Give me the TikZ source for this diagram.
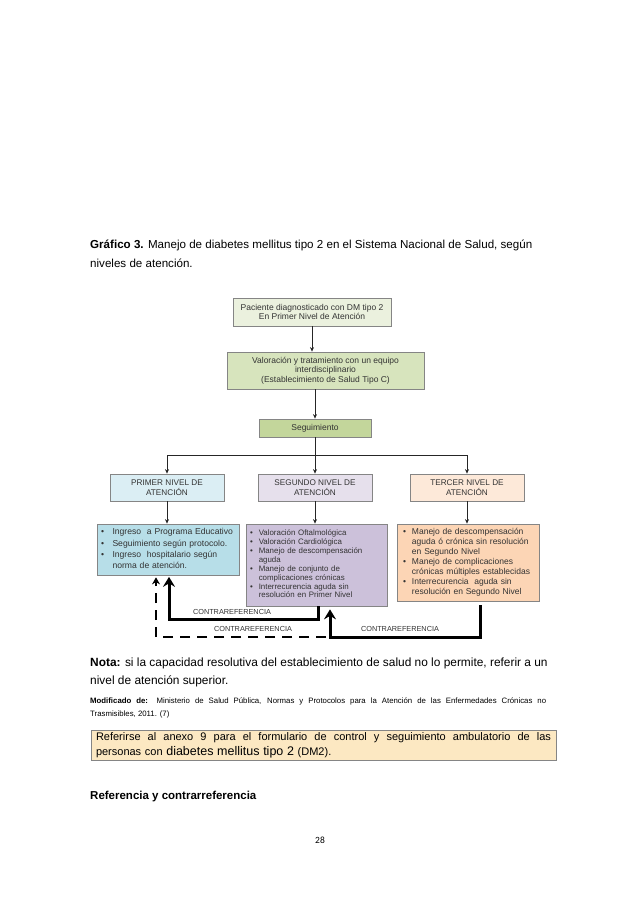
\documentclass[tikz,border=0pt]{standalone}
\usepackage{fontspec}
\setmainfont{Liberation Sans}
\newfontfamily\pagefont{Carlito}
\usetikzlibrary{arrows.meta}
\definecolor{gA}{HTML}{EBF1DE}
\definecolor{gB}{HTML}{D7E4BD}
\definecolor{gC}{HTML}{C3D69B}
\definecolor{bA}{HTML}{DBEEF4}
\definecolor{bB}{HTML}{B7DEE8}
\definecolor{pA}{HTML}{E6E0EC}
\definecolor{pB}{HTML}{CCC1DA}
\definecolor{oA}{HTML}{FDE9D9}
\definecolor{oB}{HTML}{FCD5B5}
\definecolor{nB}{HTML}{FCE8C2}
\definecolor{bord}{HTML}{858585}
\definecolor{txt}{HTML}{333333}
\begin{document}
\begin{tikzpicture}[x=1pt,y=-1pt,
  box/.style={draw=bord, line width=0.7pt, text=txt, align=center, inner sep=1pt, font=\fontsize{8.5}{9.6}\selectfont},
  lvl/.style={box, minimum width=114pt, minimum height=27pt, font=\fontsize{8.2}{10}\selectfont},
  det/.style={box, align=left, inner xsep=4pt, inner ysep=2pt},
  arr/.style={-{Stealth[length=4.5pt,width=4pt]}, line width=0.8pt, draw=black!85},
  fat/.style={-{Stealth[length=10pt,width=12pt,inset=3.5pt]}, line width=3pt},
  dsh/.style={-{Stealth[length=7pt,width=8pt]}, line width=2pt, dash pattern=on 10pt off 7pt},
  lab/.style={font=\fontsize{7.3}{8}\selectfont, text=txt, inner sep=0pt},
  para/.style={anchor=base west, inner sep=0pt, font=\fontsize{11.6}{13}\selectfont}
]
\useasboundingbox[fill=white] (0,0) rectangle (638,903);

% title
\node[para] (t1) at (90,248) {\textbf{Gráfico 3.} Manejo de diabetes mellitus tipo 2 en el Sistema Nacional de Salud, según};
\node[para] (t2) at (90,267) {niveles de atención.};

% top boxes
\node[box, fill=gA, minimum width=158pt, minimum height=28pt] (p1) at (312,312) {Paciente diagnosticado con DM tipo 2\\En Primer Nivel de Atención};
\node[box, fill=gB, minimum width=197pt, minimum height=37pt] (p2) at (325.5,370.5) {Valoración y tratamiento con un equipo\\interdisciplinario\\(Establecimiento de Salud Tipo C)};
\node[box, fill=gC, minimum width=112pt, minimum height=18pt] (p3) at (315,428) {Seguimiento};

\draw[arr] (p1.south) -- (p1.south |- p2.north);
\draw[arr] (p3.north |- p2.south) -- (p3.north);

% levels
\node[lvl, fill=bA] (n1) at (167,487.5) {PRIMER NIVEL DE\\ATENCIÓN};
\node[lvl, fill=pA] (n2) at (315,487.5) {SEGUNDO NIVEL DE\\ATENCIÓN};
\node[lvl, fill=oA] (n3) at (467,487.5) {TERCER NIVEL DE\\ATENCIÓN};

\coordinate (br) at (315,455);
\draw[line width=0.8pt, draw=black!85] (p3.south) -- (br);
\draw[arr] (br) -| (n1.north);
\draw[arr] (br) -| (n3.north);
\draw[arr] (br) -- (n2.north);

% details
\node[det, fill=bB, minimum width=142pt, minimum height=51pt, text width=134pt, font=\fontsize{8.6}{11.2}\selectfont] (d1) at (168,549.5)
 {\begin{tabular}{@{}l@{\hspace{8.5pt}}l@{}}
 •&Ingreso\ \ a Programa Educativo\\
 •&Seguimiento según protocolo.\\
 •&Ingreso\ \ hospitalario según\\
  &norma de atención.
 \end{tabular}};
\node[det, fill=pB, minimum width=141pt, minimum height=82pt, text width=133pt, inner xsep=4pt, font=\fontsize{7.9}{8.9}\selectfont] (d2) at (316.5,565)
 {\begin{tabular}{@{}l@{\hspace{6pt}}l@{}}
 •&Valoración Oftalmológica\\
 •&Valoración Cardiológica\\
 •&Manejo de descompensación\\
  &aguda\\
 •&Manejo de conjunto de\\
  &complicaciones crónicas\\
 •&Interrecurencia aguda sin\\
  &resolución en Primer Nivel
 \end{tabular}};
\node[det, fill=oB, minimum width=142pt, minimum height=77pt, text width=130pt, inner xsep=6pt, font=\fontsize{8.5}{10}\selectfont] (d3) at (468,562.5)
 {\begin{tabular}{@{}l@{\hspace{6pt}}l@{}}
 •&Manejo de descompensación\\
  &aguda ó crónica sin resolución\\
  &en Segundo Nivel\\
 •&Manejo de complicaciones\\
  &crónicas múltiples establecidas\\
 •&Interrecurencia\ \ aguda sin\\
  &resolución en Segundo Nivel
 \end{tabular}};

\draw[arr] (n1.south) -- (n1.south |- d1.north);
\draw[arr] (n2.south) -- (n2.south |- d2.north);
\draw[arr] (n3.south) -- (n3.south |- d3.north);

% contrareferencia arrows
\draw[fat] ([xshift=1.5pt]d2.south) -- ++(0,13) -| ([xshift=1pt,yshift=-1.5pt]d1.south);
\draw[fat] ([xshift=12pt,yshift=-4pt]d3.south) |- (330,637) -- ([xshift=13.5pt,yshift=-3pt]d2.south);
\coordinate (dj) at (326,637);
\draw[dsh] (dj) -| ([xshift=-12pt,yshift=-2pt]d1.south);

\node[lab] (l1) at (232,612) {CONTRAREFERENCIA};
\node[lab] (l2) at (253,629) {CONTRAREFERENCIA};
\node[lab] (l3) at (400,629) {CONTRAREFERENCIA};

% nota
\node[para, font=\fontsize{11.9}{13}\selectfont] (nt1) at (90,666) {\textbf{Nota:} si la capacidad resolutiva del establecimiento de salud no lo permite, referir a un};
\node[para, font=\fontsize{11.9}{13}\selectfont] (nt2) at (90,684) {nivel de atención superior.};
\node[para, font=\fontsize{7.8}{9}\selectfont] (m1) at (90,703) {\makebox[456pt][s]{\textbf{Modificado de:} Ministerio de Salud Pública, Normas y Protocolos para la Atención de las Enfermedades Crónicas no}};
\node[para, font=\fontsize{7.8}{9}\selectfont] (m2) at (90,716) {Trasmisibles, 2011. (7)};

% note box
\node[draw=bord, line width=0.8pt, fill=nB, minimum width=465pt, minimum height=30pt, text width=455pt, align=left, inner xsep=5pt, inner ysep=0pt, font=\fontsize{11}{15}\selectfont] (nb) at (323.5,745)
 {{\spaceskip=0pt \xspaceskip=0pt \makebox[455pt][s]{Referirse al anexo 9 para el formulario de control y seguimiento ambulatorio de las}}\\
  personas con {\fontsize{12.5}{15}\selectfont diabetes mellitus tipo 2} (DM2).};

\node[para, font=\fontsize{11.5}{13}\selectfont\bfseries] (rf) at (90,799) {Referencia y contrarreferencia};
\node[anchor=base, inner sep=0pt, font=\pagefont\fontsize{9.5}{11}\selectfont] (pg) at (320,843) {28};
\end{tikzpicture}
\end{document}
